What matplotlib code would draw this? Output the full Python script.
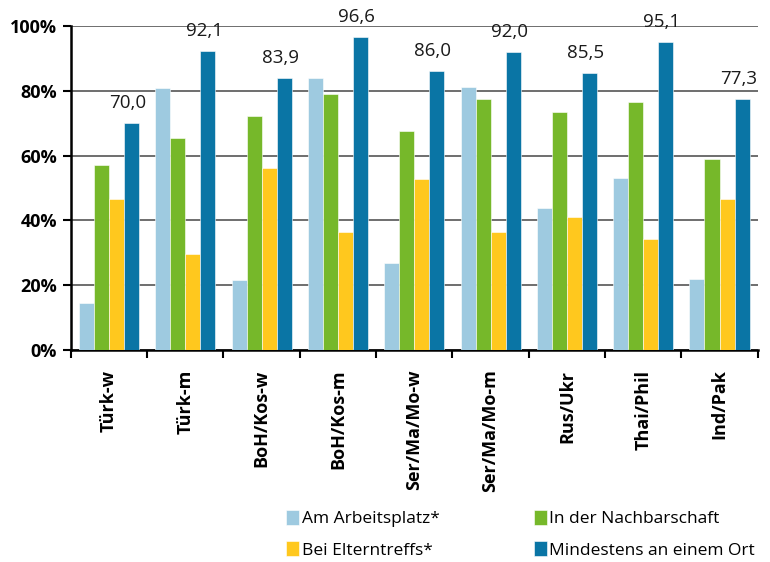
import numpy as np
import matplotlib.pyplot as plt

plt.rcParams["font.family"] = ["Open Sans", "DejaVu Sans"]

groups = ["Türk-w", "Türk-m", "BoH/Kos-w", "BoH/Kos-m", "Ser/Ma/Mo-w",
          "Ser/Ma/Mo-m", "Rus/Ukr", "Thai/Phil", "Ind/Pak"]
arbeitsplatz = [14.5, 80.8, 21.7, 83.9, 27.0, 81.2, 43.8, 53.2, 22.0]
nachbarschaft = [57.0, 65.3, 72.3, 78.9, 67.5, 77.3, 73.4, 76.5, 59.0]
elterntreffs = [46.5, 29.7, 56.3, 36.4, 52.7, 36.4, 41.0, 34.4, 46.5]
mindestens = [70.0, 92.1, 83.9, 96.6, 86.0, 92.0, 85.5, 95.1, 77.3]
value_labels = ["70,0", "92,1", "83,9", "96,6", "86,0", "92,0", "85,5", "95,1", "77,3"]
y_ticks = [0, 20, 40, 60, 80, 100]

series = [
    ("Am Arbeitsplatz*", arbeitsplatz, "#9ecae0"),
    ("In der Nachbarschaft", nachbarschaft, "#76b82a"),
    ("Bei Elterntreffs*", elterntreffs, "#ffc81e"),
    ("Mindestens an einem Ort", mindestens, "#0a75a5"),
]

fig = plt.figure(figsize=(7.7, 5.62), dpi=100)
ax = fig.add_axes([0.092, 0.377, 0.892, 0.577])

x = np.arange(len(groups))
w = 0.197
bars = {}
for i, (name, vals, col) in enumerate(series):
    bars[name] = ax.bar(x + (i - 1.5) * w, vals, w, color=col,
                        edgecolor="white", linewidth=0.4, label=name, zorder=3)

for rect, lab in zip(bars["Mindestens an einem Ort"], value_labels):
    ax.annotate(lab, (rect.get_x() + rect.get_width() / 2 - 0.05, rect.get_height()),
                xytext=(0, 8), textcoords="offset points", ha="center", va="bottom",
                fontsize=13.5, color="#1a1a1a", clip_on=False)

ax.set_xlim(-0.5, len(groups) - 0.5)
ax.set_ylim(0, 100)
ax.set_yticks(y_ticks)
ax.set_yticklabels([f"{t}%" for t in y_ticks], fontsize=13, fontweight="bold")
ax.yaxis.grid(True, color="#555555", linewidth=1.2, zorder=0)
ax.set_axisbelow(True)

ax.set_xticks(x)
ax.set_xticklabels(groups, rotation=90, fontsize=13, fontweight="bold")
ax.set_xticks(np.arange(-0.5, len(groups)), minor=True)
ax.tick_params(axis="x", which="major", length=0, pad=14)
ax.tick_params(axis="x", which="minor", length=6, width=1.5, direction="out")
ax.tick_params(axis="y", length=6, width=1.5, pad=4)

for s in ["top", "right"]:
    ax.spines[s].set_visible(False)
ax.spines["left"].set_linewidth(1.8)
ax.spines["bottom"].set_linewidth(1.8)

handles = [bars[n] for n in ["Am Arbeitsplatz*", "Bei Elterntreffs*",
                             "In der Nachbarschaft", "Mindestens an einem Ort"]]
fig.legend(handles, [h.get_label() for h in handles], ncol=2,
           loc="upper left", bbox_to_anchor=(0.372, 0.092), frameon=False,
           fontsize=12.5, handlelength=0.75, handleheight=0.9, handletextpad=0.15,
           columnspacing=5.4, labelspacing=0.8, borderaxespad=0, borderpad=0)

fig.savefig("out.png", dpi=100)
